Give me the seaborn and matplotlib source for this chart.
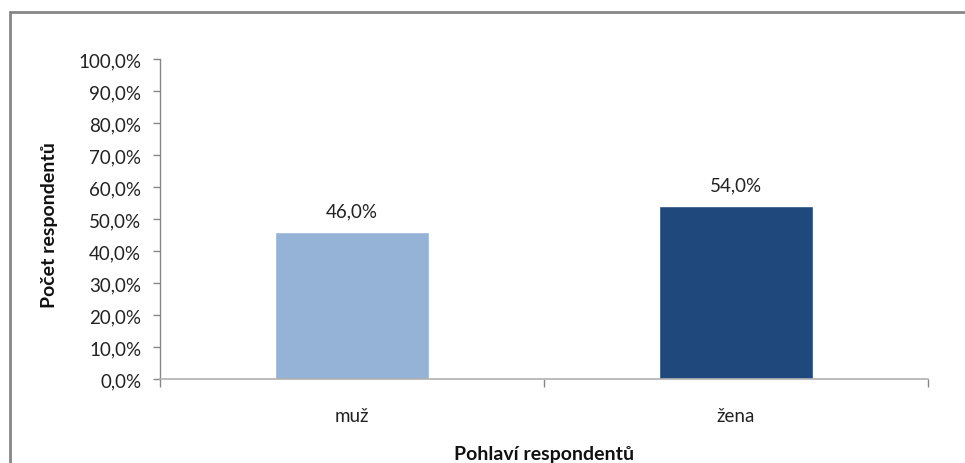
import matplotlib
matplotlib.use("Agg")
import matplotlib.pyplot as plt
import seaborn as sns
import pandas as pd
from matplotlib.patches import Rectangle

categories = ["muž", "žena"]
values = [46.0, 54.0]
colors = ["#95b3d7", "#1f497d"]
yticks = [0, 10, 20, 30, 40, 50, 60, 70, 80, 90, 100]
ytick_labels = [f"{t:.1f}%".replace(".", ",") for t in yticks]

sns.set_theme(style="white")
plt.rcParams["font.family"] = ["Lato", "DejaVu Sans"]

W, H = 965, 464
fig = plt.figure(figsize=(W / 100, H / 100), dpi=100)
ax = fig.add_axes([160 / W, 1 - 380 / H, (928 - 160) / W, (380 - 60) / H])

df = pd.DataFrame({"cat": categories, "val": values})
sns.barplot(data=df, x="cat", y="val", hue="cat", palette=colors, width=0.4,
            legend=False, ax=ax, saturation=1)

FS = 13.5
ax.set_ylim(0, 100)
ax.set_xlim(-0.5, 1.5)
ax.set_yticks(yticks)
ax.set_yticklabels(ytick_labels, fontsize=FS, color="#222222")
ax.set_xticks([0, 1])
ax.set_xticklabels(categories, fontsize=FS, color="#222222")
ax.tick_params(axis="x", length=0, pad=20)
ax.tick_params(axis="y", length=5, width=1, color="#868686", pad=8.5, left=True)
ax.set_xticks([-0.5, 0.5, 1.5], minor=True)
ax.tick_params(axis="x", which="minor", length=6, width=1, color="#868686", bottom=True)

for s in ["top", "right"]:
    ax.spines[s].set_visible(False)
ax.spines["left"].set_color("#868686")
ax.spines["bottom"].set_color("#b0b0b0")
ax.spines["left"].set_linewidth(1)
ax.spines["bottom"].set_linewidth(1.2)

for i, v in enumerate(values):
    ax.text(i, v + 4, f"{v:.1f}%".replace(".", ","), ha="center", va="bottom",
            fontsize=FS, color="#222222")

ax.set_xlabel("")
ax.set_ylabel("")
fig.text(544 / W, 1 - 455 / H, "Pohlaví respondentů", ha="center", va="center",
         fontsize=14, fontweight="bold", color="#111111")
fig.text(50 / W, 1 - 225 / H, "Počet respondentů", ha="center", va="center",
         rotation=90, fontsize=14, fontweight="bold", color="#111111")

fig.patches.append(Rectangle((10 / W, -0.1), 1.2, 1 - 13 / H + 0.1,
                             transform=fig.transFigure, fill=False,
                             edgecolor="#868686", linewidth=2, figure=fig))

fig.savefig("out.png", dpi=100)
